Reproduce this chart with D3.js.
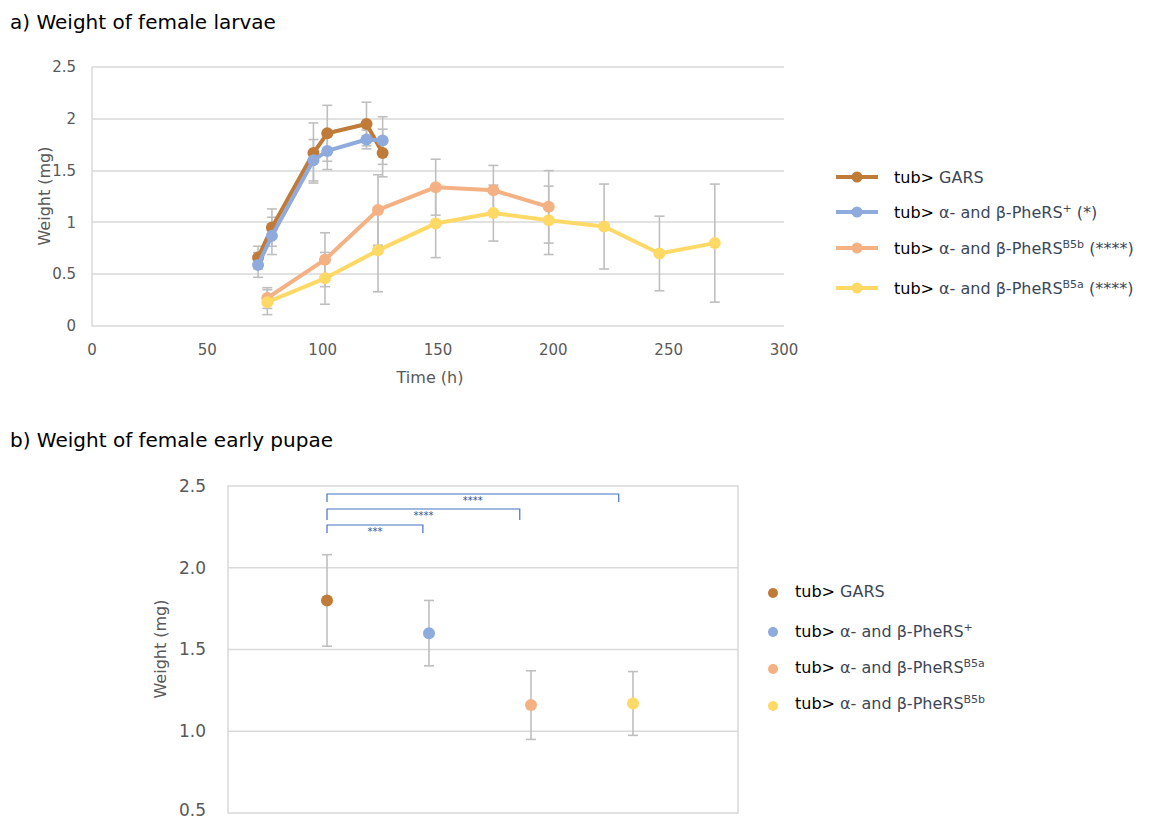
<!DOCTYPE html>
<html>
<head>
<meta charset="utf-8">
<script src="https://cdn.jsdelivr.net/npm/d3@7"></script>
<style>
  body { margin: 0; background: #fff; }
  svg { display: block; font-family: "DejaVu Sans", Verdana, sans-serif; }
</style>
</head>
<body>
<svg id="chart" width="1149" height="821"></svg>
<script>
// ---------- Data: panel a (larvae weight over time) ----------
const seriesNames = ["GARS", "PheRS+", "PheRS B5b", "PheRS B5a"];
const garsTimes = [72, 78, 96, 102, 119, 126];
const garsWeight = [0.66, 0.95, 1.67, 1.86, 1.95, 1.67];
const garsErr = [0.11, 0.18, 0.29, 0.27, 0.21, 0.23];
const pheTimes = [72, 78, 96, 102, 119, 126];
const pheWeight = [0.59, 0.87, 1.60, 1.69, 1.80, 1.79];
const pheErr = [0.12, 0.18, 0.20, 0.18, 0.09, 0.23];
const b5bTimes = [76, 101, 124, 149, 174, 198];
const b5bWeight = [0.27, 0.64, 1.12, 1.34, 1.31, 1.15];
const b5bErr = [0.10, 0.26, 0.34, 0.27, 0.24, 0.35];
const b5aTimes = [76, 101, 124, 149, 174, 198, 222, 246, 270];
const b5aWeight = [0.23, 0.46, 0.73, 0.99, 1.09, 1.02, 0.96, 0.70, 0.80];
const b5aErr = [0.12, 0.25, 0.40, 0.33, 0.27, 0.33, 0.41, 0.36, 0.57];
const xTicksA = [0, 50, 100, 150, 200, 250, 300];
const yTicksA = [0, 0.5, 1, 1.5, 2, 2.5];

// ---------- Data: panel b (pupae weight) ----------
const pupaeCats = [1, 2, 3, 4];
const pupaeWeight = [1.80, 1.60, 1.16, 1.17];
const pupaeErr = [0.28, 0.20, 0.21, 0.195];
const yTicksB = [0.5, 1.0, 1.5, 2.0, 2.5];
const sigFrom = [1, 1, 1];
const sigTo = [1.94, 2.89, 3.86];
const sigLabels = ["***", "****", "****"];

const colors = ["#C07B38", "#8FAADC", "#F4B183", "#FFD966"];

const svg = d3.select("#chart");
const grid = "#D9D9D9", axisTxt = "#595959", errCol = "#BFBFBF";

// ================= Panel a =================
svg.append("text").attr("x", 10).attr("y", 29)
  .attr("font-size", 20).attr("fill", "#000").text("a) Weight of female larvae");

const xA = d3.scaleLinear().domain([0, 300]).range([92, 784]);
const yA = d3.scaleLinear().domain([0, 2.5]).range([326, 67]);

const gA = svg.append("g");
gA.selectAll("line.grid").data(yTicksA.filter(d => d > 0)).join("line")
  .attr("x1", xA(0)).attr("x2", xA(300))
  .attr("y1", d => Math.round(yA(d))).attr("y2", d => Math.round(yA(d)))
  .attr("stroke", grid).attr("stroke-width", 1.3);
gA.append("line").attr("x1", xA(0)).attr("x2", xA(300)).attr("y1", yA(0)).attr("y2", yA(0))
  .attr("stroke", grid).attr("stroke-width", 1.5);
gA.append("line").attr("x1", xA(0)).attr("x2", xA(0)).attr("y1", yA(0)).attr("y2", yA(2.5))
  .attr("stroke", grid).attr("stroke-width", 1.5);

gA.selectAll("text.yt").data(yTicksA).join("text")
  .attr("x", 76).attr("y", d => yA(d)).attr("dy", "0.35em")
  .attr("text-anchor", "end").attr("font-size", 15).attr("fill", axisTxt)
  .text(d => d3.format("")(d));
gA.selectAll("text.xt").data(xTicksA).join("text")
  .attr("x", d => xA(d)).attr("y", 355)
  .attr("text-anchor", "middle").attr("font-size", 15).attr("fill", axisTxt)
  .text(d => d);
gA.append("text").attr("x", 430).attr("y", 383).attr("text-anchor", "middle")
  .attr("font-size", 16).attr("fill", axisTxt).text("Time (h)");
gA.append("text").attr("transform", "translate(50,196) rotate(-90)")
  .attr("text-anchor", "middle").attr("font-size", 16).attr("fill", axisTxt).text("Weight (mg)");

const seriesA = [
  {t: garsTimes, w: garsWeight, e: garsErr},
  {t: pheTimes, w: pheWeight, e: pheErr},
  {t: b5bTimes, w: b5bWeight, e: b5bErr},
  {t: b5aTimes, w: b5aWeight, e: b5aErr}
].map((s, i) => ({color: colors[i], pts: s.t.map((t, j) => ({t, w: s.w[j], e: s.e[j]}))}));

const line = d3.line().x(d => xA(d.t)).y(d => yA(d.w));
seriesA.forEach(s => {
  const eb = gA.append("g").attr("stroke", errCol).attr("stroke-width", 1.6);
  s.pts.forEach(p => {
    eb.append("line").attr("x1", xA(p.t)).attr("x2", xA(p.t))
      .attr("y1", yA(p.w - p.e)).attr("y2", yA(p.w + p.e));
    [p.w - p.e, p.w + p.e].forEach(v => eb.append("line")
      .attr("x1", xA(p.t) - 5).attr("x2", xA(p.t) + 5).attr("y1", yA(v)).attr("y2", yA(v)));
  });
});
seriesA.forEach(s => {
  gA.append("path").datum(s.pts).attr("d", line).attr("fill", "none")
    .attr("stroke", s.color).attr("stroke-width", 4).attr("stroke-linejoin", "round");
  gA.selectAll(null).data(s.pts).join("circle")
    .attr("cx", d => xA(d.t)).attr("cy", d => yA(d.w)).attr("r", 6).attr("fill", s.color);
});

// legend a
const legA = [
  {main: "GARS", sup: "", tail: ""},
  {main: "\u03b1- and \u03b2-PheRS", sup: "+", tail: " (*)"},
  {main: "\u03b1- and \u03b2-PheRS", sup: "B5b", tail: " (****)"},
  {main: "\u03b1- and \u03b2-PheRS", sup: "B5a", tail: " (****)"}
];
const legAy = [177, 212, 248, 288];
legA.forEach((d, i) => {
  const y = legAy[i];
  svg.append("line").attr("x1", 836).attr("x2", 878).attr("y1", y).attr("y2", y)
    .attr("stroke", colors[i]).attr("stroke-width", 4);
  svg.append("circle").attr("cx", 857).attr("cy", y).attr("r", 5.5).attr("fill", colors[i]);
  const t = svg.append("text").attr("x", 894).attr("y", y).attr("dy", "0.35em")
    .attr("font-size", 16).attr("fill", "#3B4758");
  t.append("tspan").attr("fill", "#000").text("tub> ");
  t.append("tspan").text(d.main);
  if (d.sup) t.append("tspan").attr("baseline-shift", "super").attr("font-size", 11).text(d.sup);
  if (d.tail) t.append("tspan").attr("baseline-shift", "0").text(d.tail);
});

// ================= Panel b =================
svg.append("text").attr("x", 10).attr("y", 447)
  .attr("font-size", 20).attr("fill", "#000").text("b) Weight of female early pupae");

const xB = d3.scaleLinear().domain([0, 5]).range([228, 738]);
const yB = d3.scaleLinear().domain([0.5, 2.5]).range([813, 486]);
const gB = svg.append("g");
gB.append("rect").attr("x", xB(0)).attr("y", yB(2.5)).attr("width", xB(5) - xB(0))
  .attr("height", yB(0.5) - yB(2.5)).attr("fill", "none").attr("stroke", grid).attr("stroke-width", 1.5);
gB.selectAll("line.g").data(yTicksB.slice(1, -1)).join("line")
  .attr("x1", xB(0)).attr("x2", xB(5)).attr("y1", d => yB(d)).attr("y2", d => yB(d))
  .attr("stroke", grid).attr("stroke-width", 1.5);
gB.selectAll("text.yt").data(yTicksB).join("text")
  .attr("x", 206).attr("y", d => yB(d)).attr("dy", d => d === 0.5 ? "0.2em" : "0.35em")
  .attr("text-anchor", "end").attr("font-size", 17).attr("fill", axisTxt)
  .text(d => d3.format(".1f")(d));
gB.append("text").attr("transform", "translate(166,649) rotate(-90)")
  .attr("text-anchor", "middle").attr("font-size", 16).attr("fill", axisTxt).text("Weight (mg)");

const eb2 = gB.append("g").attr("stroke", errCol).attr("stroke-width", 1.6);
pupaeCats.forEach((c, i) => {
  const x = xB(c) - 3, w = pupaeWeight[i], e = pupaeErr[i];
  eb2.append("line").attr("x1", x).attr("x2", x).attr("y1", yB(w - e)).attr("y2", yB(w + e));
  [w - e, w + e].forEach(v => eb2.append("line").attr("x1", x - 5).attr("x2", x + 5)
    .attr("y1", yB(v)).attr("y2", yB(v)));
});
gB.selectAll("circle.p").data(pupaeCats).join("circle")
  .attr("cx", d => xB(d) - 3).attr("cy", (d, i) => yB(pupaeWeight[i])).attr("r", 6)
  .attr("fill", (d, i) => colors[i]);

// significance brackets
const sigY = [525, 509, 494];
const sigDrop = [8, 11, 8];
sigFrom.forEach((f, i) => {
  const x1 = xB(f) - 3, x2 = xB(sigTo[i]) - 3, y = sigY[i];
  gB.append("path").attr("d", `M${x1},${y + sigDrop[i]}V${y}H${x2}V${y + sigDrop[i]}`)
    .attr("fill", "none").attr("stroke", "#4472C4").attr("stroke-width", 1.2);
  gB.append("text").attr("x", (x1 + x2) / 2).attr("y", y + 10)
    .attr("text-anchor", "middle").attr("font-size", 10).attr("fill", "#2F528F").text(sigLabels[i]);
});

// legend b
const legB = [
  {main: "GARS", sup: ""},
  {main: "\u03b1- and \u03b2-PheRS", sup: "+"},
  {main: "\u03b1- and \u03b2-PheRS", sup: "B5a"},
  {main: "\u03b1- and \u03b2-PheRS", sup: "B5b"}
];
const legBy = [591, 631, 667, 703];
const legBdot = [593, 632, 669, 706];
legB.forEach((d, i) => {
  svg.append("circle").attr("cx", 773).attr("cy", legBdot[i]).attr("r", 5).attr("fill", colors[i]);
  const t = svg.append("text").attr("x", 795).attr("y", legBy[i]).attr("dy", "0.35em")
    .attr("font-size", 16).attr("fill", "#3B4758");
  t.append("tspan").attr("fill", "#000").text("tub> ");
  t.append("tspan").text(d.main);
  if (d.sup) t.append("tspan").attr("baseline-shift", "super").attr("font-size", 11).text(d.sup);
});
</script>
</body>
</html>
